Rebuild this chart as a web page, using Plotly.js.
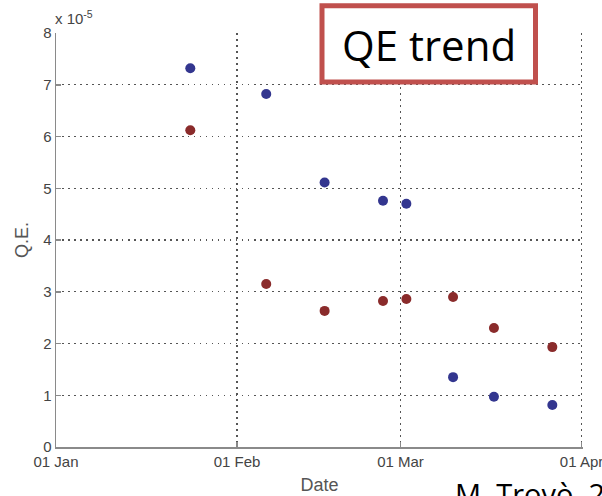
<!DOCTYPE html>
<html>
<head>
<meta charset="utf-8">
<script src="https://cdn.plot.ly/plotly-3.0.1.min.js"></script>
<style>
  html, body { margin: 0; padding: 0; background: #ffffff; }
  #chart { width: 602px; height: 496px; }
</style>
</head>
<body>
<div id="chart"></div>
<script>
// Measurement dates (2013)
const dates = ['2013-01-24', '2013-02-06', '2013-02-16', '2013-02-26',
               '2013-03-02', '2013-03-10', '2013-03-17', '2013-03-27'];

// Quantum efficiency, in units of 1e-5
const qeBlue = [7.32, 6.82, 5.11, 4.76, 4.70, 1.35, 0.97, 0.81];
const qeRed  = [6.12, 3.15, 2.63, 2.82, 2.86, 2.90, 2.30, 1.93];

// Axis ticks
const monthTicks = ['2013-01-01', '2013-02-01', '2013-03-01', '2013-04-01'];
const monthLabels = ['01 Jan', '01 Feb', '01 Mar', '01 Apr'];
const qeTicks = [0, 1, 2, 3, 4, 5, 6, 7, 8];

const axisFont = { family: 'Liberation Sans, Arial, sans-serif', size: 15, color: '#444444' };

const traces = [
  {
    x: dates, y: qeBlue, type: 'scatter', mode: 'markers',
    marker: { color: '#33368f', size: 10 },
    hoverinfo: 'skip', cliponaxis: false
  },
  {
    x: dates, y: qeRed, type: 'scatter', mode: 'markers',
    marker: { color: '#8a2b2b', size: 10 },
    hoverinfo: 'skip', cliponaxis: false
  }
];

const gridStyle = {
  showgrid: true,
  gridcolor: '#555555',
  gridwidth: 1.2,
  griddash: '1.5px,4.5px',
  showline: true,
  linecolor: '#8a8a8a',
  linewidth: 1.5,
  ticks: 'inside',
  ticklen: 5,
  tickwidth: 1.5,
  tickcolor: '#8a8a8a',
  tickfont: axisFont,
  ticklabeloverflow: 'allow',
  zeroline: false,
  mirror: false
};

const layout = {
  width: 602,
  height: 496,
  margin: { l: 56, r: 19, t: 33, b: 49 },
  paper_bgcolor: '#ffffff',
  plot_bgcolor: '#ffffff',
  showlegend: false,
  xaxis: Object.assign({}, gridStyle, {
    type: 'date',
    // a few hours past 1 April so the last month tick stays inside the range
    range: ['2013-01-01', '2013-04-01 06:00'],
    tickmode: 'array',
    tickvals: monthTicks,
    ticktext: monthLabels,
    title: { text: 'Date', font: { family: 'Liberation Sans, Arial, sans-serif', size: 18, color: '#555555' }, standoff: 10 }
  }),
  yaxis: Object.assign({}, gridStyle, {
    range: [0, 8],
    tickmode: 'array',
    tickvals: qeTicks,
    ticktext: qeTicks.map(String),
    title: { text: 'Q.E.', font: { family: 'Liberation Sans, Arial, sans-serif', size: 18, color: '#555555' }, standoff: 10 }
  }),
  shapes: [
    {
      type: 'rect', xref: 'paper', yref: 'paper', layer: 'above',
      x0: (322 - 56) / 527, x1: (535.5 - 56) / 527, y0: 0.8816, y1: 1.0657,
      line: { color: '#c0504d', width: 5 },
      fillcolor: '#ffffff'
    }
  ],
  annotations: [
    {
      text: 'x 10<sup>-5</sup>', xref: 'paper', yref: 'paper',
      x: 0, y: 1.0, xanchor: 'left', yanchor: 'bottom', yshift: 4, xshift: -3,
      showarrow: false, font: axisFont
    },
    {
      text: 'QE trend', xref: 'paper', yref: 'paper',
      x: (428.75 - 56) / 527, y: 0.9734, xanchor: 'center', yanchor: 'middle',
      showarrow: false,
      font: { family: 'Open Sans, Noto Sans, sans-serif', size: 42, color: '#000000' }
    },
    {
      text: 'M. Trovò, 2013', xref: 'paper', yref: 'paper',
      x: (453 - 56) / 527, y: (447 - 472) / 414, xanchor: 'left', yanchor: 'top',
      showarrow: false,
      font: { family: 'Open Sans, Noto Sans, sans-serif', size: 29, color: '#000000' }
    }
  ]
};

Plotly.newPlot('chart', traces, layout, { staticPlot: true, displayModeBar: false });
</script>
</body>
</html>
